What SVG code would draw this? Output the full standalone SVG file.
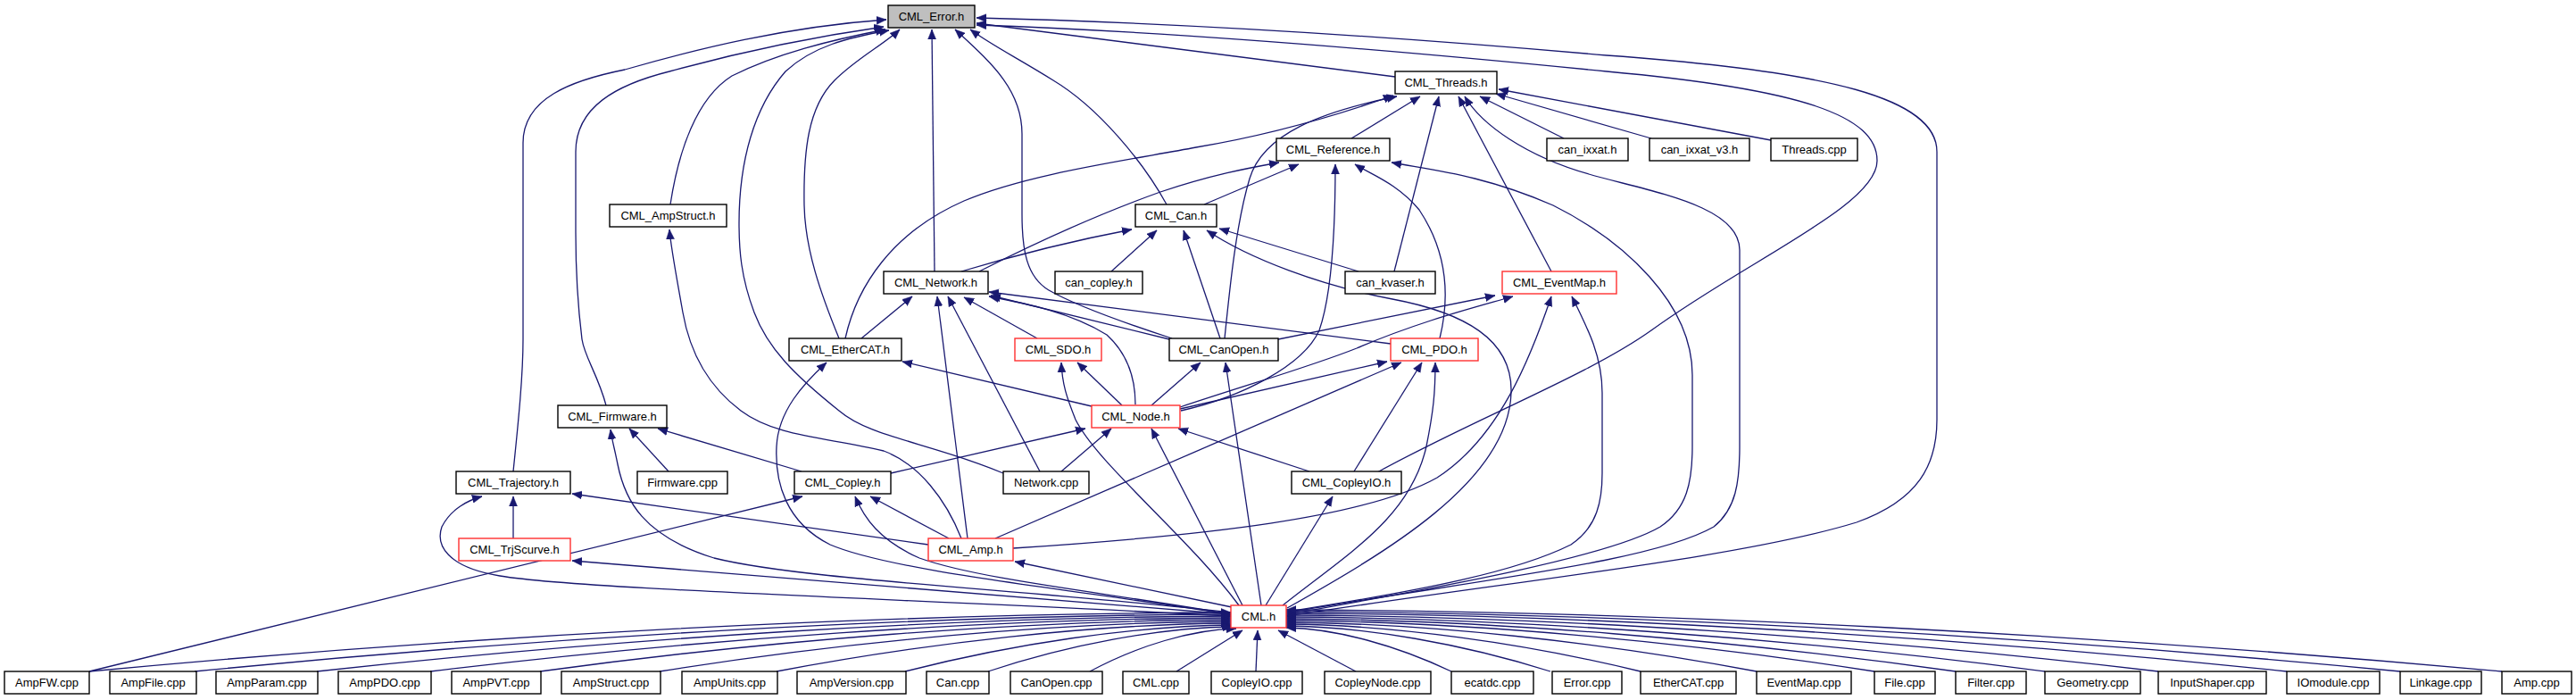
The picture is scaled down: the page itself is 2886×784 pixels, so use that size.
<svg xmlns="http://www.w3.org/2000/svg" width="2886" height="784" viewBox="0 0 2886 784">
<style>
.n rect{fill:#fff;stroke:#000;stroke-width:1.4}
.r rect{stroke:#ff3030}
.g rect{fill:#bfbfbf}
text{font-family:"Liberation Sans",Arial,sans-serif;font-size:13px;text-anchor:middle;fill:#000}
.e path{fill:none;stroke:#191970;stroke-width:1.3;marker-end:url(#a)}
</style>
<defs>
<marker id="a" markerUnits="userSpaceOnUse" markerWidth="12" markerHeight="10" viewBox="0 0 12 10" refX="11" refY="5" orient="auto">
<path d="M0,0.5 L11,5 L0,9.5 z" fill="#191970" stroke="#191970" stroke-width="0.5"/>
</marker>
</defs>
<rect width="2886" height="784" fill="#fff"/>
<g id="edges" class="e">
<path d="M575,528 C581,470 586,420 586,380 L586,160 C586,110 640,90 700,78 C780,55 880,30 993,22"/>
<path d="M679,454 C670,420 655,400 652,380 C647,340 645,300 645,260 L645,170 C645,120 690,95 750,80 C830,58 920,40 990,30"/>
<path d="M751,229 C760,170 780,110 820,85 C870,60 930,45 992,33"/>
<path d="M1124,530 C1040,495 975,490 940,460 C890,420 860,390 845,350 C830,310 828,280 828,250 C828,180 845,120 880,80 C910,52 950,42 996,34"/>
<path d="M940,379 C920,330 902,280 901,230 C900,170 905,120 935,90 C960,65 990,50 1008,33"/>
<path d="M1047,304 L1044,33"/>
<path d="M1313,379 C1270,365 1210,345 1175,325 C1150,310 1145,280 1145,240 L1145,150 C1145,100 1110,70 1070,33"/>
<path d="M1307,229 C1280,180 1230,120 1180,90 C1140,65 1110,50 1087,33"/>
<path d="M1563,86 L1094,26"/>
<path d="M1543,529 C1650,470 1780,420 1850,370 C1960,290 2103,230 2103,180 C2103,130 2020,100 1800,80 C1550,55 1300,35 1094,28"/>
<path d="M1442,690 C1700,650 1950,625 2080,585 C2150,560 2170,520 2170,470 L2170,170 C2170,110 2050,80 1800,62 C1550,40 1300,25 1094,20"/>
<path d="M947,379 C960,320 1000,260 1080,225 C1150,195 1260,180 1340,165 C1430,150 1510,125 1561,107"/>
<path d="M1372,379 C1378,320 1385,250 1400,200 C1415,150 1480,125 1565,108"/>
<path d="M1514,155 L1591,108"/>
<path d="M1562,304 L1612,108"/>
<path d="M1738,304 L1634,108"/>
<path d="M1443,686 C1650,650 1850,630 1920,590 C1945,570 1949,540 1949,500 L1949,280 C1949,230 1850,215 1780,195 C1710,175 1660,140 1641,108"/>
<path d="M1752,155 L1658,108"/>
<path d="M1850,155 L1676,105"/>
<path d="M1984,157 L1679,100"/>
<path d="M1097,304 C1160,272 1230,240 1300,215 C1360,195 1400,188 1433,182"/>
<path d="M1349,229 L1455,184"/>
<path d="M1323,460 C1390,445 1460,410 1478,370 C1492,330 1496,260 1496,184"/>
<path d="M1613,379 C1625,330 1620,280 1590,235 C1565,205 1535,195 1518,184"/>
<path d="M1443,688 C1600,660 1800,625 1860,590 C1890,570 1896,540 1896,500 L1896,420 C1896,340 1820,270 1740,230 C1660,195 1600,190 1559,182"/>
<path d="M1077,304 C1140,285 1210,268 1268,257"/>
<path d="M1245,304 L1296,258"/>
<path d="M1367,379 L1326,258"/>
<path d="M1442,681 C1550,620 1690,540 1693,440 C1695,380 1640,350 1560,335 C1480,320 1400,290 1352,258"/>
<path d="M1522,304 L1366,256"/>
<path d="M965,379 L1022,332"/>
<path d="M1162,379 L1080,333"/>
<path d="M1310,380 L1110,331"/>
<path d="M1272,453 C1272,420 1262,395 1240,375 C1200,350 1150,340 1108,332"/>
<path d="M1558,385 L1108,327"/>
<path d="M1084,603 L1050,332"/>
<path d="M1165,528 L1062,332"/>
<path d="M1077,603 C1060,560 1030,520 990,505 C930,490 870,490 830,460 C790,430 772,390 765,350 C758,310 752,280 750,257"/>
<path d="M1432,380 L1675,331"/>
<path d="M1322,456 C1400,430 1470,410 1520,390 C1590,360 1650,345 1695,332"/>
<path d="M1135,614 C1350,600 1530,580 1610,535 C1680,490 1715,400 1738,332"/>
<path d="M1443,685 C1600,660 1700,640 1760,610 C1790,590 1795,560 1795,530 L1795,440 C1795,400 1780,370 1761,332"/>
<path d="M1223,455 L1011,405"/>
<path d="M1379,688 C1200,660 1000,640 930,610 C880,585 868,540 870,500 C872,460 900,430 926,406"/>
<path d="M1257,454 L1207,406"/>
<path d="M1388,678 C1330,600 1230,520 1205,470 C1195,445 1190,430 1189,406"/>
<path d="M1290,454 L1345,406"/>
<path d="M1413,678 L1373,406"/>
<path d="M1322,458 L1554,405"/>
<path d="M1115,603 L1570,406"/>
<path d="M1517,528 L1593,406"/>
<path d="M1437,678 C1510,620 1580,580 1598,500 C1606,460 1608,440 1608,406"/>
<path d="M998,530 L1216,480"/>
<path d="M1189,528 L1245,480"/>
<path d="M1392,678 L1290,480"/>
<path d="M1467,528 L1320,480"/>
<path d="M898,528 L737,480"/>
<path d="M749,528 L705,480"/>
<path d="M1379,686 C1150,660 900,650 800,625 C720,600 700,560 692,520 C688,500 686,495 684,481"/>
<path d="M100,752 L899,556"/>
<path d="M1063,603 L975,556"/>
<path d="M1379,688 C1250,665 1100,650 1030,625 C985,605 968,580 958,556"/>
<path d="M575,603 L575,556"/>
<path d="M1040,610 L641,553"/>
<path d="M1379,690 C1000,670 650,660 560,645 C500,635 488,610 495,590 C505,570 525,560 540,556"/>
<path d="M1379,688 L641,628"/>
<path d="M1380,680 L1137,629"/>
<path d="M1418,678 L1493,556"/>
<path d="M100,752 C522,712 995,687 1379,686"/>
<path d="M218,752 C601,714 1031,689 1379,688"/>
<path d="M355,752 C693,715 1072,691 1379,690"/>
<path d="M482,752 C778,716 1110,693 1379,692"/>
<path d="M605,752 C860,717 1147,695 1379,694"/>
<path d="M739,752 C950,718 1187,697 1379,696"/>
<path d="M870,752 C1038,720 1226,699 1379,698"/>
<path d="M1014,752 C1135,721 1270,701 1380,700"/>
<path d="M1107,752 C1197,722 1299,703 1381,702"/>
<path d="M1221,752 C1275,723 1336,705 1385,704"/>
<path d="M1318,752 L1392,706"/>
<path d="M1407,752 L1409,706"/>
<path d="M1519,752 L1432,706"/>
<path d="M1626,752 C1565,723 1497,704 1441,703"/>
<path d="M1737,752 C1639,721 1530,702 1441,701"/>
<path d="M1838,752 C1707,720 1560,700 1441,699"/>
<path d="M1968,752 C1794,719 1599,698 1441,697"/>
<path d="M2100,752 C1883,718 1639,696 1441,695"/>
<path d="M2191,752 C1943,717 1666,694 1441,693"/>
<path d="M2291,752 C2011,715 1696,692 1441,691"/>
<path d="M2418,752 C2096,714 1734,690 1441,689"/>
<path d="M2562,752 C2192,713 1777,688 1441,687"/>
<path d="M2689,752 C2277,712 1815,686 1441,685"/>
<path d="M2803,752 C2354,711 1850,684 1441,683"/>
</g>
<g id="n_error" class="n g"><rect x="995" y="6" width="97" height="25"/><text x="1043.5" y="23">CML_Error.h</text></g>
<g id="n_threads" class="n"><rect x="1563" y="80" width="114" height="25"/><text x="1620" y="97">CML_Threads.h</text></g>
<g id="n_reference" class="n"><rect x="1430" y="155" width="127" height="25"/><text x="1493.5" y="172">CML_Reference.h</text></g>
<g id="n_can_ixxat" class="n"><rect x="1733" y="155" width="91" height="25"/><text x="1778.5" y="172">can_ixxat.h</text></g>
<g id="n_can_ixxat_v3" class="n"><rect x="1848" y="155" width="112" height="25"/><text x="1904" y="172">can_ixxat_v3.h</text></g>
<g id="n_threads_cpp" class="n"><rect x="1984" y="155" width="97" height="25"/><text x="2032.5" y="172">Threads.cpp</text></g>
<g id="n_ampstruct" class="n"><rect x="683" y="229" width="131" height="25"/><text x="748.5" y="246">CML_AmpStruct.h</text></g>
<g id="n_can" class="n"><rect x="1272" y="229" width="91" height="25"/><text x="1317.5" y="246">CML_Can.h</text></g>
<g id="n_network" class="n"><rect x="990" y="304" width="117" height="25"/><text x="1048.5" y="321">CML_Network.h</text></g>
<g id="n_can_copley" class="n"><rect x="1182" y="304" width="98" height="25"/><text x="1231" y="321">can_copley.h</text></g>
<g id="n_can_kvaser" class="n"><rect x="1507" y="304" width="101" height="25"/><text x="1557.5" y="321">can_kvaser.h</text></g>
<g id="n_eventmap" class="n r"><rect x="1683" y="304" width="128" height="25"/><text x="1747" y="321">CML_EventMap.h</text></g>
<g id="n_ethercat" class="n"><rect x="884" y="379" width="126" height="25"/><text x="947" y="396">CML_EtherCAT.h</text></g>
<g id="n_sdo" class="n r"><rect x="1137" y="379" width="97" height="25"/><text x="1185.5" y="396">CML_SDO.h</text></g>
<g id="n_canopen" class="n"><rect x="1310" y="379" width="122" height="25"/><text x="1371" y="396">CML_CanOpen.h</text></g>
<g id="n_pdo" class="n r"><rect x="1558" y="379" width="98" height="25"/><text x="1607" y="396">CML_PDO.h</text></g>
<g id="n_firmware" class="n"><rect x="625" y="454" width="122" height="25"/><text x="686" y="471">CML_Firmware.h</text></g>
<g id="n_node" class="n r"><rect x="1223" y="454" width="99" height="25"/><text x="1272.5" y="471">CML_Node.h</text></g>
<g id="n_trajectory" class="n"><rect x="511" y="528" width="128" height="25"/><text x="575" y="545">CML_Trajectory.h</text></g>
<g id="n_firmware_cpp" class="n"><rect x="714" y="528" width="101" height="25"/><text x="764.5" y="545">Firmware.cpp</text></g>
<g id="n_copley" class="n"><rect x="890" y="528" width="108" height="25"/><text x="944" y="545">CML_Copley.h</text></g>
<g id="n_network_cpp" class="n"><rect x="1124" y="528" width="96" height="25"/><text x="1172" y="545">Network.cpp</text></g>
<g id="n_copleyio" class="n"><rect x="1447" y="528" width="123" height="25"/><text x="1508.5" y="545">CML_CopleyIO.h</text></g>
<g id="n_trjscurve" class="n r"><rect x="514" y="603" width="125" height="25"/><text x="576.5" y="620">CML_TrjScurve.h</text></g>
<g id="n_amp" class="n r"><rect x="1040" y="603" width="95" height="25"/><text x="1087.5" y="620">CML_Amp.h</text></g>
<g id="n_cml" class="n r"><rect x="1379" y="678" width="62" height="25"/><text x="1410" y="695">CML.h</text></g>
<g id="n_ampfw" class="n"><rect x="5" y="752" width="95" height="25"/><text x="52.5" y="769">AmpFW.cpp</text></g>
<g id="n_ampfile" class="n"><rect x="123" y="752" width="97" height="25"/><text x="171.5" y="769">AmpFile.cpp</text></g>
<g id="n_ampparam" class="n"><rect x="242" y="752" width="114" height="25"/><text x="299" y="769">AmpParam.cpp</text></g>
<g id="n_amppdo" class="n"><rect x="379" y="752" width="104" height="25"/><text x="431" y="769">AmpPDO.cpp</text></g>
<g id="n_amppvt" class="n"><rect x="506" y="752" width="100" height="25"/><text x="556" y="769">AmpPVT.cpp</text></g>
<g id="n_ampstruct_cpp" class="n"><rect x="629" y="752" width="111" height="25"/><text x="684.5" y="769">AmpStruct.cpp</text></g>
<g id="n_ampunits" class="n"><rect x="764" y="752" width="107" height="25"/><text x="817.5" y="769">AmpUnits.cpp</text></g>
<g id="n_ampversion" class="n"><rect x="893" y="752" width="122" height="25"/><text x="954" y="769">AmpVersion.cpp</text></g>
<g id="n_can_cpp" class="n"><rect x="1038" y="752" width="70" height="25"/><text x="1073" y="769">Can.cpp</text></g>
<g id="n_canopen_cpp" class="n"><rect x="1132" y="752" width="103" height="25"/><text x="1183.5" y="769">CanOpen.cpp</text></g>
<g id="n_cml_cpp" class="n"><rect x="1258" y="752" width="74" height="25"/><text x="1295" y="769">CML.cpp</text></g>
<g id="n_copleyio_cpp" class="n"><rect x="1357" y="752" width="102" height="25"/><text x="1408" y="769">CopleyIO.cpp</text></g>
<g id="n_copleynode_cpp" class="n"><rect x="1484" y="752" width="119" height="25"/><text x="1543.5" y="769">CopleyNode.cpp</text></g>
<g id="n_ecatdc_cpp" class="n"><rect x="1626" y="752" width="92" height="25"/><text x="1672" y="769">ecatdc.cpp</text></g>
<g id="n_error_cpp" class="n"><rect x="1739" y="752" width="78" height="25"/><text x="1778" y="769">Error.cpp</text></g>
<g id="n_ethercat_cpp" class="n"><rect x="1838" y="752" width="107" height="25"/><text x="1891.5" y="769">EtherCAT.cpp</text></g>
<g id="n_eventmap_cpp" class="n"><rect x="1968" y="752" width="106" height="25"/><text x="2021" y="769">EventMap.cpp</text></g>
<g id="n_file_cpp" class="n"><rect x="2100" y="752" width="68" height="25"/><text x="2134" y="769">File.cpp</text></g>
<g id="n_filter_cpp" class="n"><rect x="2191" y="752" width="79" height="25"/><text x="2230.5" y="769">Filter.cpp</text></g>
<g id="n_geometry_cpp" class="n"><rect x="2291" y="752" width="107" height="25"/><text x="2344.5" y="769">Geometry.cpp</text></g>
<g id="n_inputshaper_cpp" class="n"><rect x="2418" y="752" width="121" height="25"/><text x="2478.5" y="769">InputShaper.cpp</text></g>
<g id="n_iomodule_cpp" class="n"><rect x="2562" y="752" width="104" height="25"/><text x="2614" y="769">IOmodule.cpp</text></g>
<g id="n_linkage_cpp" class="n"><rect x="2689" y="752" width="91" height="25"/><text x="2734.5" y="769">Linkage.cpp</text></g>
<g id="n_amp_cpp" class="n"><rect x="2803" y="752" width="78" height="25"/><text x="2842" y="769">Amp.cpp</text></g>
</svg>
